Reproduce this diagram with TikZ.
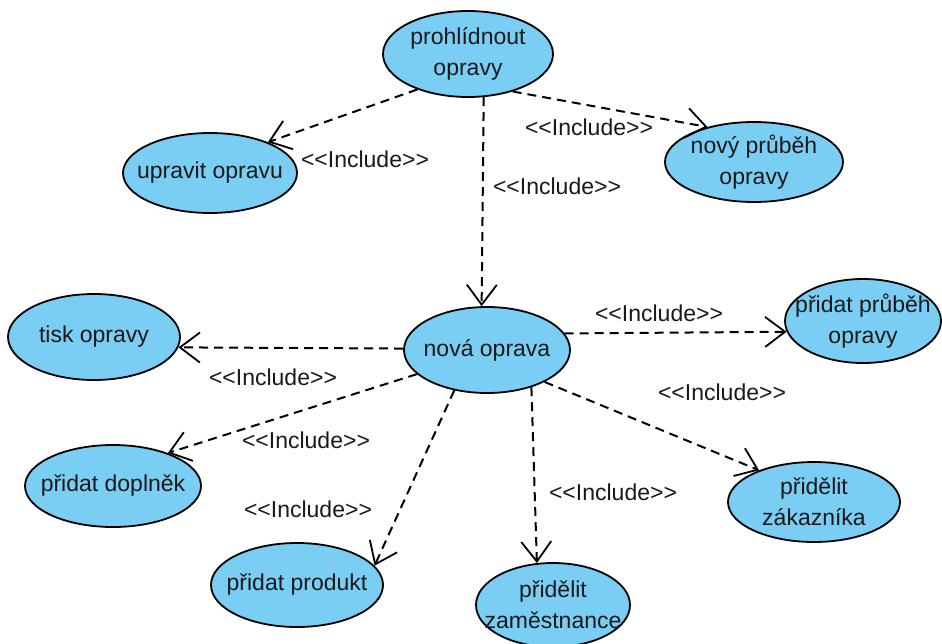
\documentclass[tikz,border=0pt]{standalone}
\usepackage{fontspec}
\setmainfont{Liberation Sans}
\usetikzlibrary{arrows.meta,shapes.geometric}
\definecolor{ucfill}{RGB}{122,206,243}
\newcommand\inclabel{<\kern0pt<Include>\kern0pt>}
\tikzset{
  uc/.style={ellipse, draw=black, line width=1.8pt, fill=ucfill, inner sep=0pt},
  uctext/.style={font=\fontsize{23}{31}\selectfont, align=center, text=black!90, inner sep=0pt},
  inc/.style={draw=black, line width=2pt, dash pattern=on 9pt off 6pt,
    -{Straight Barb[length=20pt,width=30pt,line width=1.8pt]}},
  lbl/.style={font=\fontsize{23}{28}\selectfont, text=black!90, inner sep=0pt}
}
\begin{document}
\begin{tikzpicture}[x=1pt,y=-1pt]
\useasboundingbox (0,0) rectangle (942,643);
\clip (0,0) rectangle (942,643);
% use cases
\node[uc, minimum width=170pt, minimum height=86pt,
  label={[uctext]center:{prohlídnout\\opravy}}] (A) at (468,54) {};
\node[uc, minimum width=174pt, minimum height=80pt,
  label={[uctext]center:{upravit opravu}}] (B) at (210,173) {};
\node[uc, minimum width=178pt, minimum height=80pt,
  label={[uctext]center:{nový průběh\\opravy}}] (C) at (754,162) {};
\node[uc, minimum width=172pt, minimum height=86pt,
  label={[uctext]center:{tisk opravy}}] (D) at (94,337) {};
\node[uc, minimum width=166pt, minimum height=86pt,
  label={[uctext]center:{nová oprava}}] (E) at (487,350) {};
\node[uc, minimum width=156pt, minimum height=84pt,
  label={[uctext]center:{přidat průběh\\opravy}}] (F) at (863,321) {};
\node[uc, minimum width=176pt, minimum height=82pt,
  label={[uctext]center:{přidat doplněk}}] (G) at (113,486) {};
\node[uc, minimum width=172pt, minimum height=84pt,
  label={[uctext]center:{přidat produkt}}] (H) at (297,585) {};
\node[uc, minimum width=154pt, minimum height=84pt,
  label={[uctext]center:{přidělit\\zaměstnance}}] (I) at (553,605) {};
\node[uc, minimum width=172pt, minimum height=80pt,
  label={[uctext]center:{přidělit\\zákazníka}}] (J) at (814,502) {};
% include relations
\draw[inc] (A.215) -- (B.28);
\draw[inc] (A.320) -- (C.143);
\draw[inc] (A.290) -- (E.97);
\draw[inc] (E.179) -- (D.353);
\draw[inc] (E.12) -- (F.188);
\draw[inc] (E.199) -- (G.31);
\draw[inc] (E.231) -- (H.14);
\draw[inc] (E.320) -- (I.111);
\draw[inc] (E.331) -- (J.150);
% labels
\node[lbl] (l1) at (365,159) {\inclabel};
\node[lbl] (l2) at (589,127) {\inclabel};
\node[lbl] (l3) at (557,186) {\inclabel};
\node[lbl] (l4) at (659,313) {\inclabel};
\node[lbl] (l5) at (273,377) {\inclabel};
\node[lbl] (l6) at (722,392) {\inclabel};
\node[lbl] (l7) at (306,440) {\inclabel};
\node[lbl] (l8) at (308,509) {\inclabel};
\node[lbl] (l9) at (613,492) {\inclabel};
\end{tikzpicture}
\end{document}
